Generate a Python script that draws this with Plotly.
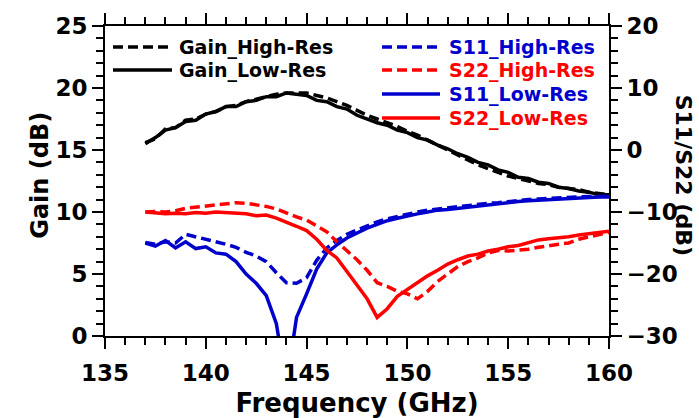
import numpy as np
import plotly.graph_objects as go

# Frequency sweep (GHz)
freq = np.arange(137.0, 160.01, 0.5)

# Gain (dB), left axis
gain_high = [15.6, 15.9, 16.7, 16.8, 17.4, 17.5, 17.9, 18.1, 18.5, 18.6,
             18.9, 19.1, 19.3, 19.5, 19.6, 19.6, 19.6, 19.4, 19.2, 18.9,
             18.6, 18.2, 17.8, 17.5, 17.2, 16.9, 16.5, 16.2, 15.8, 15.4,
             15.0, 14.6, 14.2, 13.8, 13.5, 13.2, 12.9, 12.7, 12.5, 12.3,
             12.2, 12.0, 11.9, 11.8, 11.6, 11.5, 11.4]
gain_low = [15.5, 16.0, 16.6, 16.8, 17.3, 17.4, 17.9, 18.1, 18.5, 18.5,
            18.9, 19.0, 19.3, 19.3, 19.6, 19.5, 19.4, 19.0, 18.9, 18.5,
            18.3, 17.8, 17.5, 17.2, 17.0, 16.6, 16.4, 16.0, 15.8, 15.4,
            15.1, 14.7, 14.4, 14.0, 13.8, 13.4, 13.2, 12.8, 12.7, 12.4,
            12.3, 12.0, 11.9, 11.7, 11.6, 11.4, 11.4]

# Reflection coefficients (dB), right axis
s11_high = [-14.9, -15.2, -14.8, -15.0, -13.6, -14.0, -14.3, -14.8, -15.2, -15.7,
            -16.5, -17.1, -18.0, -19.8, -21.4, -21.5, -20.6, -17.8, -15.8, -14.6,
            -13.6, -12.9, -12.2, -11.6, -11.1, -10.7, -10.3, -10.0, -9.7, -9.5,
            -9.3, -9.1, -8.9, -8.8, -8.6, -8.5, -8.3, -8.1, -8.0, -7.9,
            -7.8, -7.7, -7.6, -7.6, -7.5, -7.5, -7.4]
s22_high = [-10.0, -9.9, -10.0, -9.8, -9.4, -9.2, -9.1, -8.8, -8.6, -8.5,
            -8.6, -8.8, -9.1, -9.5, -10.2, -10.8, -11.3, -12.2, -13.2, -14.8,
            -16.2, -17.7, -19.4, -21.4, -22.0, -22.8, -23.2, -24.0, -22.8, -21.2,
            -20.0, -18.8, -18.0, -17.4, -16.6, -16.2, -16.3, -16.2, -16.0, -15.7,
            -15.4, -15.2, -15.0, -14.4, -14.0, -13.6, -13.3]
s11_low = [-15.0, -15.5, -14.6, -15.8, -14.8, -15.9, -15.6, -16.6, -16.8, -18.0,
           -20.0, -21.5, -23.5, -28.0, -38.0, -27.0, -23.2, -19.2, -16.6, -15.3,
           -14.2, -13.4, -12.6, -12.0, -11.4, -11.0, -10.6, -10.3, -10.0, -9.7,
           -9.6, -9.4, -9.2, -9.1, -8.8, -8.7, -8.5, -8.3, -8.2, -8.1,
           -8.0, -7.9, -7.8, -7.7, -7.7, -7.6, -7.6]
s22_low = [-10.0, -10.2, -10.3, -10.2, -10.3, -10.1, -10.2, -10.0, -10.1, -10.2,
           -10.3, -10.6, -10.5, -11.0, -11.6, -12.3, -13.0, -14.4, -16.2, -17.4,
           -19.6, -21.8, -24.0, -27.0, -25.6, -23.6, -22.5, -21.5, -20.3, -19.4,
           -18.4, -17.7, -17.1, -16.8, -16.3, -16.0, -15.6, -15.4, -15.0, -14.5,
           -14.3, -14.2, -14.0, -13.7, -13.5, -13.4, -13.1]

BLACK = "#000000"
BLUE = "#0000CC"
RED = "#FF0000"
DASH = "10px,5px"
LW = 3.5
FONT = "DejaVu Sans"

series = [
    ("Gain_High-Res", gain_high, BLACK, DASH, "y"),
    ("Gain_Low-Res", gain_low, BLACK, "solid", "y"),
    ("S11_High-Res", s11_high, BLUE, DASH, "y2"),
    ("S22_High-Res", s22_high, RED, DASH, "y2"),
    ("S11_Low-Res", s11_low, BLUE, "solid", "y2"),
    ("S22_Low-Res", s22_low, RED, "solid", "y2"),
]

fig = go.Figure()
for name, vals, color, dash, yax in series:
    fig.add_trace(go.Scatter(
        x=freq, y=vals, name=name, mode="lines", yaxis=yax,
        line=dict(color=color, width=LW, dash=dash),
        showlegend=False,
    ))

# Transparent companion trace so the top frequency axis (ticks only) is drawn
fig.add_trace(go.Scatter(x=freq, y=gain_low, xaxis="x2", yaxis="y", mode="lines",
                         line=dict(width=0, color="rgba(0,0,0,0)"),
                         hoverinfo="skip", showlegend=False))

tick_font = dict(family=FONT, size=23, color="black", weight="bold")
axis_common = dict(
    showgrid=False, zeroline=False, showline=True, automargin=False,
    linecolor="black", linewidth=2,
    ticks="outside", ticklen=11, tickwidth=2, tickcolor="black",
    tickfont=tick_font,
)
minor_x = dict(dtick=1, ticks="outside", ticklen=7, tickwidth=2, tickcolor="black")

fig.update_layout(
    width=699, height=418,
    margin=dict(l=105, r=90, t=26, b=82),
    paper_bgcolor="white", plot_bgcolor="white",
    font=dict(family=FONT, color="black"),
    xaxis=dict(
        range=[135, 160], dtick=5, tick0=135, ticklabelstandoff=4,
        minor=minor_x,
        title=dict(text="Frequency (GHz)", standoff=10,
                   font=dict(family=FONT, size=26, weight="bold")),
        **axis_common,
    ),
    xaxis2=dict(
        range=[135, 160], dtick=5, tick0=135, overlaying="x", side="top",
        showticklabels=False, minor=minor_x,
        **{k: v for k, v in axis_common.items() if k != "tickfont"},
    ),
    yaxis=dict(
        range=[0, 25], dtick=5, tick0=0,
        minor=dict(dtick=1, ticks="outside", ticklen=7, tickwidth=2, tickcolor="black"),
        **axis_common,
    ),
    yaxis2=dict(
        range=[-30, 20], dtick=10, tick0=-30, overlaying="y", side="right",
        ticklabelstandoff=0,
        minor=dict(dtick=2, ticks="outside", ticklen=7, tickwidth=2, tickcolor="black"),
        **axis_common,
    ),
)

# Axis titles for the two y axes
fig.add_annotation(text="Gain (dB)", xref="paper", yref="paper",
                   x=-0.129, y=0.52, textangle=-90, showarrow=False,
                   xanchor="center", yanchor="middle",
                   font=dict(family=FONT, size=24, weight="bold", color="black"))
fig.add_annotation(text="S11/S22 (dB)", xref="paper", yref="paper",
                   x=1.147, y=0.52, textangle=90, showarrow=False,
                   xanchor="center", yanchor="middle",
                   font=dict(family=FONT, size=22, weight="bold", color="black"))

# Legend: two columns of line samples with coloured labels
def px_x(px):
    return (px - 105) / 504

def px_y(py):
    return (336 - py) / 310

legend_left = [("Gain_High-Res", BLACK, DASH, 47), ("Gain_Low-Res", BLACK, "solid", 70)]
legend_right = [("S11_High-Res", BLUE, DASH, 47), ("S22_High-Res", RED, DASH, 70),
                ("S11_Low-Res", BLUE, "solid", 94), ("S22_Low-Res", RED, "solid", 118)]

for entries, x0, x1, xt in [(legend_left, 113, 172, 177), (legend_right, 382, 440, 447)]:
    for label, color, dash, row in entries:
        fig.add_shape(type="line", xref="paper", yref="paper",
                      x0=px_x(x0), x1=px_x(x1), y0=px_y(row), y1=px_y(row),
                      line=dict(color=color, width=LW, dash=dash))
        fig.add_annotation(text=label, xref="paper", yref="paper",
                           x=px_x(xt), y=px_y(row), showarrow=False,
                           xanchor="left", yanchor="middle",
                           font=dict(family=FONT, size=19, weight="bold", color=color))

fig.write_html("out.html")
